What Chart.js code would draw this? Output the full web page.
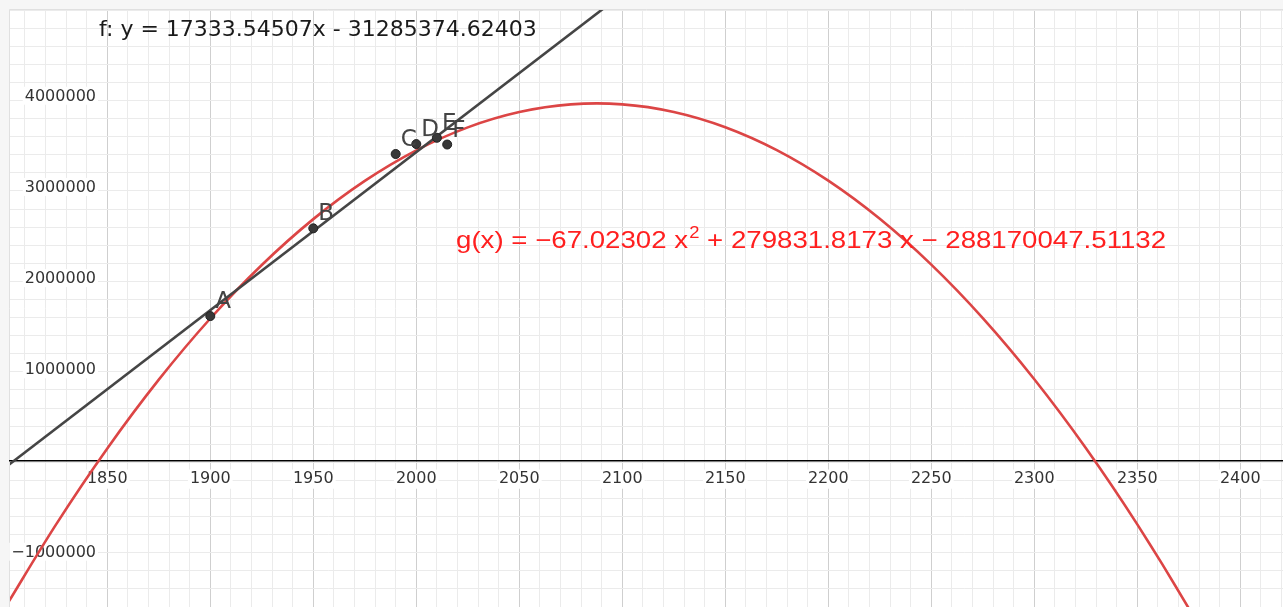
<!DOCTYPE html>
<html>
<head>
<meta charset="utf-8">
<script src="https://cdn.jsdelivr.net/npm/chart.js@4.4.0/dist/chart.umd.min.js"></script>
<style>
  html, body { margin: 0; padding: 0; background: #f6f6f6; }
  #wrap { width: 1283px; height: 607px; }
</style>
</head>
<body>
<div id="wrap"><canvas id="chartPop"></canvas></div>
<script>
// points mesurés (A..F)
const pointNames = ["A", "B", "C", "D", "E", "F"];
const pointYears = [1900, 1950, 1990, 2000, 2010, 2015];
const pointValues = [1584000, 2546000, 3361000, 3470000, 3539000, 3465000];

// droite f : lue aux deux bords du graphe
const fYears = [1800, 2100];
const fValues = [-85000, 5115000];

// courbe g : lue tous les 25 ans
const gYears = [1800, 1825, 1850, 1875, 1900, 1925, 1950, 1975, 2000, 2025, 2050, 2075,
                2100, 2125, 2150, 2175, 2200, 2225, 2250, 2275, 2300, 2325, 2350, 2375, 2400];
const gValues = [-1627000, -705500, 132500, 886800, 1557300, 2144000, 2647000, 3066100, 3401500,
                 3653100, 3820900, 3905000, 3905300, 3821700, 3654500, 3403400, 3068500, 2649900,
                 2147500, 1561300, 891400, 137600, -699900, -1621200, -2626300];

// graduations étiquetées de l'axe vertical
const yTickLabels = [4000000, 3000000, 2000000, 1000000, -1000000];

// textes
const fLabel = "f: y = 17333.54507x - 31285374.62403";
const gLabelParts = ["g(x) = \u221267.02302 x", "2", " + 279831.8173 x \u2212 288170047.51132"];

// vue
const X_MIN = 1802.77, X_MAX = 2420.73;
const Y_MIN = -1606000, Y_MAX = 4940000;

const GRID_MAJOR = "#cfcfcf";
const GRID_MINOR = "#ebebeb";
const FONT = "'DejaVu Sans', sans-serif";

const isMult = (v, m) => Math.abs(v / m - Math.round(v / m)) < 1e-6;
const noPadding = (s) => {
  s.paddingLeft = 0; s.paddingRight = 0; s.paddingTop = 0; s.paddingBottom = 0;
};

// fond gris + zone blanche
const fondPlugin = {
  id: "fond",
  beforeDraw(chart) {
    const { ctx, chartArea: a, width, height } = chart;
    ctx.save();
    ctx.fillStyle = "#f6f6f6";
    ctx.fillRect(0, 0, width, height);
    ctx.fillStyle = "#ffffff";
    ctx.fillRect(a.left, a.top, a.right - a.left, a.bottom - a.top);
    ctx.strokeStyle = "#e0e0e0";
    ctx.lineWidth = 1;
    ctx.beginPath();
    ctx.moveTo(a.left - 0.5, a.bottom);
    ctx.lineTo(a.left - 0.5, a.top - 0.5);
    ctx.lineTo(a.right, a.top - 0.5);
    ctx.stroke();
    ctx.restore();
  }
};

// étiquettes de l'axe vertical (dans la zone du graphe, sous les courbes)
const axeYPlugin = {
  id: "axeY",
  beforeDatasetsDraw(chart) {
    const { ctx, chartArea: a } = chart;
    const sy = chart.scales.y;
    ctx.save();
    ctx.font = "16px " + FONT;
    ctx.textAlign = "right";
    ctx.textBaseline = "middle";
    yTickLabels.forEach((v) => {
      const txt = v < 0 ? "\u2212" + Math.abs(v) : String(v);
      const y = sy.getPixelForValue(v);
      const w = ctx.measureText(txt).width;
      const right = a.left + 86;
      ctx.fillStyle = "#fff";
      ctx.fillRect(right - w - 2, y - 9, w + 4, 18);
      ctx.fillStyle = "#333";
      ctx.fillText(txt, right, y + 1);
    });
    ctx.restore();
  }
};

// étiquettes des points et des équations
const textesPlugin = {
  id: "textes",
  afterDatasetsDraw(chart) {
    const { ctx } = chart;
    const sx = chart.scales.x, sy = chart.scales.y;
    ctx.save();

    // noms des points
    ctx.font = "23px " + FONT;
    ctx.fillStyle = "#444";
    ctx.textBaseline = "alphabetic";
    ctx.textAlign = "left";
    chart.getDatasetMeta(0).data.forEach((pt, i) => {
      ctx.fillText(pointNames[i], pt.x + 5, pt.y - 8);
    });

    // équation de f
    ctx.font = "22px " + FONT;
    ctx.fillStyle = "#1a1a1a";
    ctx.fillText(fLabel, sx.getPixelForValue(1846), sy.getPixelForValue(4655000));

    // équation de g (ajustée à la largeur voulue)
    const gx = sx.getPixelForValue(2019.3);
    const gy = sy.getPixelForValue(2330000);
    const big = "24px 'Liberation Sans', sans-serif";
    const small = "16px 'Liberation Sans', sans-serif";
    ctx.font = big;
    const w0 = ctx.measureText(gLabelParts[0]).width;
    const w2 = ctx.measureText(gLabelParts[2]).width;
    ctx.font = small;
    const w1 = ctx.measureText(gLabelParts[1]).width + 1;
    const k = 710 / (w0 + w1 + w2);
    ctx.translate(gx, gy);
    ctx.scale(k, 1);
    ctx.fillStyle = "#ff1f1f";
    ctx.font = big;
    ctx.fillText(gLabelParts[0], 0, 0);
    ctx.font = small;
    ctx.fillText(gLabelParts[1], w0 + 1, -10);
    ctx.font = big;
    ctx.fillText(gLabelParts[2], w0 + w1, 0);
    ctx.restore();
  }
};

const ctxPop = document.getElementById("chartPop").getContext("2d");

new Chart(ctxPop, {
  type: "scatter",
  data: {
    datasets: [
      {
        label: "points",
        data: pointYears.map((x, i) => ({ x, y: pointValues[i] })),
        pointRadius: 4.5,
        pointBackgroundColor: "#383838",
        pointBorderColor: "#222",
        pointBorderWidth: 1,
        showLine: false
      },
      {
        label: "f",
        data: fYears.map((x, i) => ({ x, y: fValues[i] })),
        showLine: true,
        borderColor: "#454545",
        borderWidth: 2.6,
        pointRadius: 0
      },
      {
        label: "g",
        data: gYears.map((x, i) => ({ x, y: gValues[i] })),
        showLine: true,
        borderColor: "#dc4545",
        borderWidth: 2.6,
        pointRadius: 0,
        tension: 0.33,
        capBezierPoints: false
      }
    ]
  },
  options: {
    responsive: true,
    maintainAspectRatio: false,
    animation: false,
    layout: { autoPadding: false, padding: { left: 10, top: 10, right: 0, bottom: 0 } },
    plugins: {
      legend: { display: false },
      tooltip: { enabled: false }
    },
    scales: {
      x: {
        type: "linear",
        position: { y: 0 },
        min: X_MIN,
        max: X_MAX,
        afterFit: noPadding,
        grid: {
          color: (c) => (c.tick && isMult(c.tick.value, 50) ? GRID_MAJOR : GRID_MINOR),
          drawTicks: false
        },
        border: { color: "#000", width: 1.5 },
        ticks: {
          stepSize: 10,
          includeBounds: false,
          autoSkip: false,
          maxRotation: 0,
          minRotation: 0,
          padding: 9,
          color: "#333",
          font: { family: FONT, size: 16 },
          showLabelBackdrop: (c) => !!(c.tick && c.tick.label),
          backdropColor: "#fff",
          backdropPadding: { x: 2, y: 0 },
          callback: (v) => (isMult(v, 50) ? String(Math.round(v)) : "")
        }
      },
      y: {
        type: "linear",
        position: "left",
        min: Y_MIN,
        max: Y_MAX,
        afterFit: noPadding,
        grid: {
          color: (c) => (c.tick && isMult(c.tick.value, 1000000) ? GRID_MAJOR : GRID_MINOR),
          drawTicks: false
        },
        border: { display: false },
        ticks: {
          display: false,
          stepSize: 200000,
          includeBounds: false,
          autoSkip: false
        }
      }
    }
  },
  plugins: [fondPlugin, axeYPlugin, textesPlugin]
});
</script>
</body>
</html>
